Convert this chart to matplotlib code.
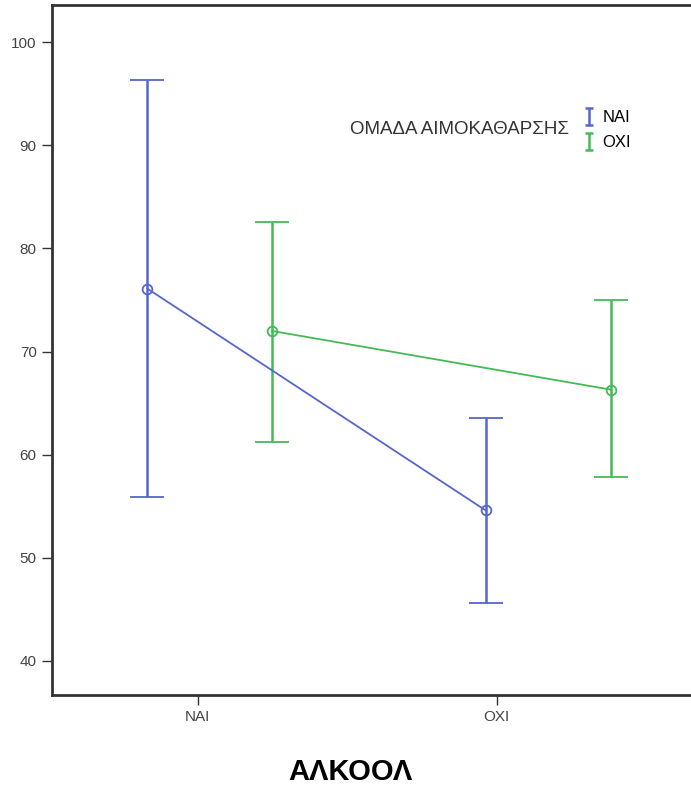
import matplotlib
matplotlib.use("Agg")
import matplotlib.pyplot as plt
import numpy as np

plt.rcParams['font.family'] = ['Liberation Sans', 'DejaVu Sans']

# data
categories = ["ΝΑΙ", "ΟΧΙ"]
groups = ["ΝΑΙ", "ΟΧΙ"]
means = {"ΝΑΙ": [76.1, 54.6], "ΟΧΙ": [72.0, 66.3]}
upper = {"ΝΑΙ": [96.3, 63.6], "ΟΧΙ": [82.6, 75.0]}
lower = {"ΝΑΙ": [55.9, 45.6], "ΟΧΙ": [61.2, 57.8]}

# dodge of each group around the category tick
dodge = {"ΝΑΙ": [-0.168, -0.037], "ΟΧΙ": [0.248, 0.383]}
colors = {"ΝΑΙ": "#5566cc", "ΟΧΙ": "#44bb55"}

fig = plt.figure(figsize=(6.91, 7.92), dpi=100)
ax = fig.add_axes([52 / 691, 97 / 792, 660 / 691, 690 / 792])

xc = np.arange(len(categories))
for g in groups:
    m = np.array(means[g])
    err = [m - np.array(lower[g]), np.array(upper[g]) - m]
    x = xc + np.array(dodge[g])
    ax.errorbar(x, m, yerr=err, color=colors[g], lw=1.3,
                elinewidth=1.8, capsize=12, capthick=1.8,
                marker='o', ms=7, mfc='none', mec=colors[g], mew=1.3)

ax.set_xlim(-0.487, 1.72)
ax.set_ylim(36.7, 103.6)
ax.set_yticks([40, 50, 60, 70, 80, 90, 100])
ax.set_xticks(xc)
ax.set_xticklabels(categories)
ax.tick_params(axis='both', length=7.5, width=1, colors='#333333',
               labelcolor='#444444', labelsize=11)
for s in ax.spines.values():
    s.set_linewidth(2)
    s.set_color('#333333')

fig.text(350 / 691, 1 - 772 / 792, "ΑΛΚΟΟΛ", fontsize=21, fontweight='bold',
         ha='center', va='center')

# legend: title on the left, entries on the right
handles = []
for g in groups:
    h = ax.errorbar([np.nan], [np.nan], yerr=[1], color=colors[g], ls='none',
                    elinewidth=1.8, capsize=3, capthick=1.8)
    handles.append(h)
leg = ax.legend(handles, groups, loc='center left',
                bbox_to_anchor=(584 / 691, 1 - 130 / 792),
                bbox_transform=fig.transFigure, frameon=False, fontsize=12,
                handlelength=0.6, handletextpad=0.5, labelspacing=0.6,
                borderaxespad=0, borderpad=0)
fig.text(459 / 691, 1 - 129 / 792, "ΟΜΑΔΑ ΑΙΜΟΚΑΘΑΡΣΗΣ", fontsize=13.5,
         ha='center', va='center', color='#333333')

fig.savefig("out.png", dpi=100)
